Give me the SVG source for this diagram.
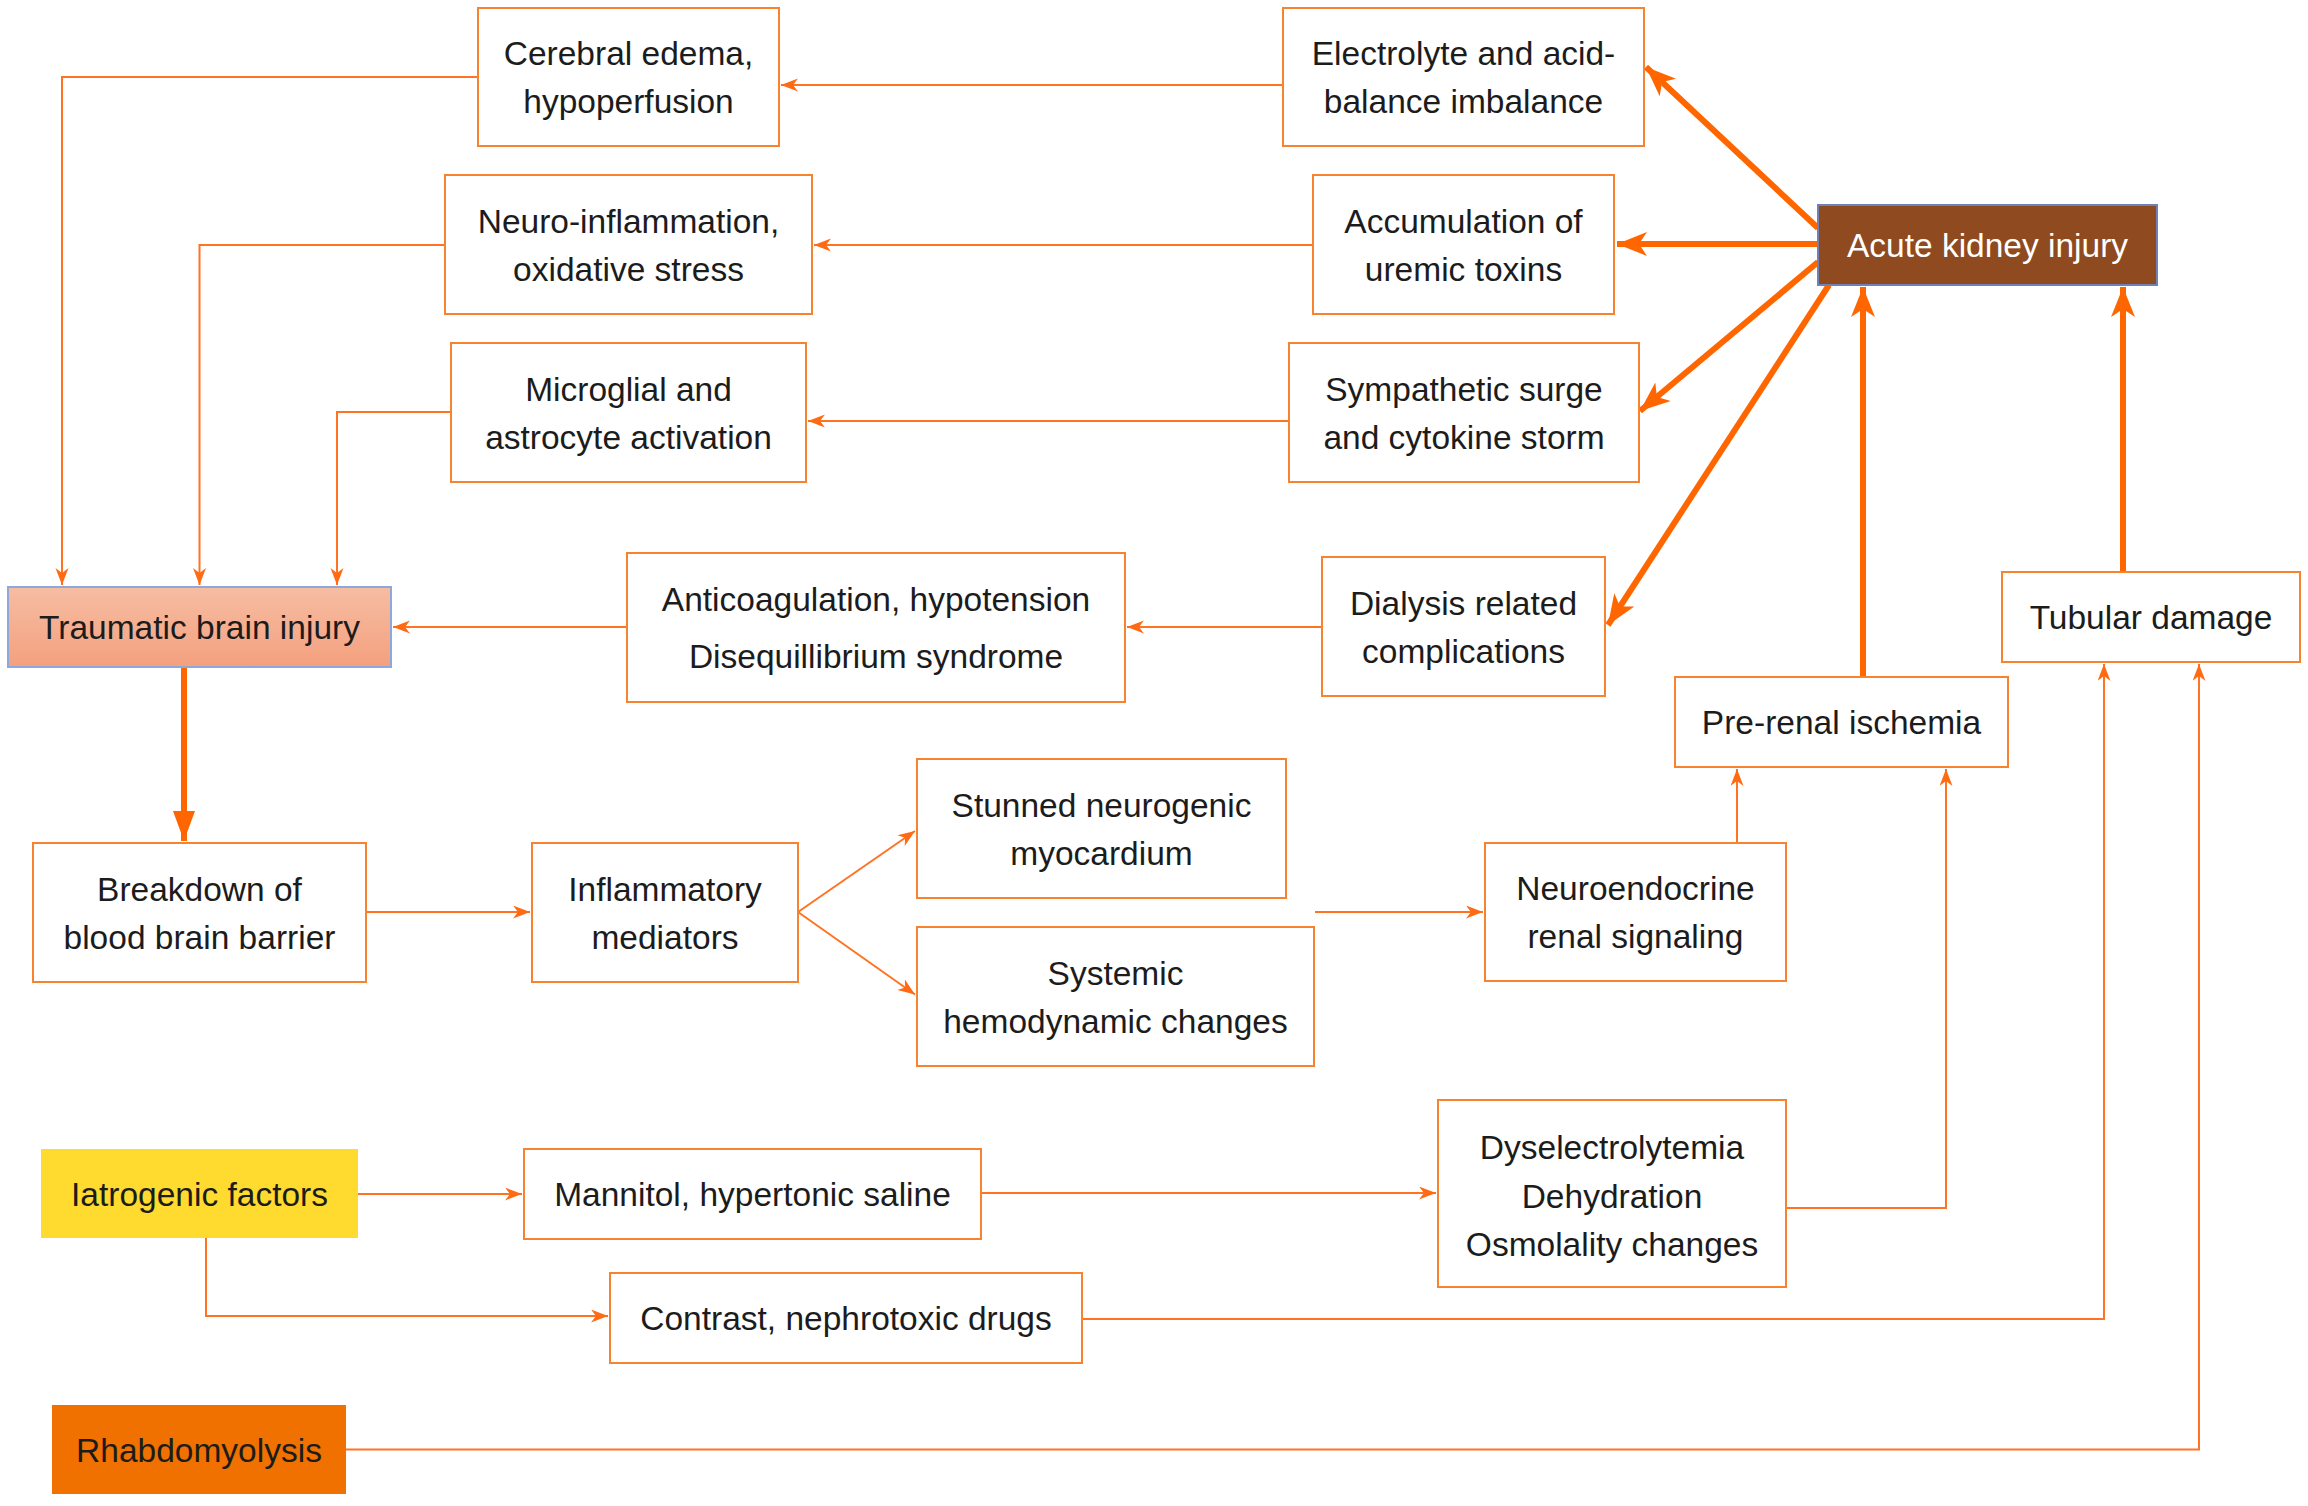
<svg xmlns="http://www.w3.org/2000/svg" width="2308" height="1506" viewBox="0 0 2308 1506">
<style>
.box{fill:#ffffff;stroke:#F7832F;stroke-width:2}
.t{font-family:"Liberation Sans",Arial,sans-serif;font-size:33.5px;fill:#1c1c1c;text-anchor:middle}
.thin{fill:none;stroke:#FF7322;stroke-width:2}
.thick{fill:none;stroke:#FF6600;stroke-width:6}
</style>
<defs>
<linearGradient id="tbiGrad" x1="0" y1="0" x2="0" y2="1">
<stop offset="0" stop-color="#F6BDA3"/>
<stop offset="1" stop-color="#F4A07E"/>
</linearGradient>
<marker id="ah" markerUnits="userSpaceOnUse" markerWidth="20" markerHeight="16" refX="17" refY="6.5" orient="auto">
<path d="M0,0 L17,6.5 L0,13 L5,6.5 z" fill="#FF6A13"/>
</marker>
<marker id="ahT" markerUnits="userSpaceOnUse" markerWidth="34" markerHeight="28" refX="30" refY="12" orient="auto">
<path d="M0,0 L30,12 L0,24 L8,12 z" fill="#FF6600"/>
</marker>
<marker id="ahP" markerUnits="userSpaceOnUse" markerWidth="34" markerHeight="26" refX="30" refY="11" orient="auto">
<path d="M0,0 L30,11 L0,22 z" fill="#FF6600"/>
</marker>
</defs>
<rect width="2308" height="1506" fill="#ffffff"/>

<g id="connectors">
<path class="thin" d="M1283,85 H781" marker-end="url(#ah)"/>
<path class="thin" d="M478,77 H62 V585" marker-end="url(#ah)"/>
<path class="thin" d="M1313,245 H814" marker-end="url(#ah)"/>
<path class="thin" d="M445,245 H199.5 V585" marker-end="url(#ah)"/>
<path class="thin" d="M1289,421 H808" marker-end="url(#ah)"/>
<path class="thin" d="M451,412 H337 V585" marker-end="url(#ah)"/>
<path class="thin" d="M1322,627 H1127" marker-end="url(#ah)"/>
<path class="thin" d="M627,627 H393" marker-end="url(#ah)"/>
<path class="thick" d="M184,667 V841" marker-end="url(#ahP)"/>
<path class="thin" d="M366,912 H530" marker-end="url(#ah)"/>
<path class="thin" d="M798,912 L915,831" marker-end="url(#ah)"/>
<path class="thin" d="M798,912 L915,994.5" marker-end="url(#ah)"/>
<path class="thin" d="M1315,912 H1483" marker-end="url(#ah)"/>
<path class="thin" d="M1737,843 V769" marker-end="url(#ah)"/>
<path class="thin" d="M358,1194 H522" marker-end="url(#ah)"/>
<path class="thin" d="M981,1193 H1436" marker-end="url(#ah)"/>
<path class="thin" d="M1786,1208 H1946 V769" marker-end="url(#ah)"/>
<path class="thin" d="M206,1238 V1316 H608" marker-end="url(#ah)"/>
<path class="thin" d="M1082,1319 H2104 V664" marker-end="url(#ah)"/>
<path class="thin" d="M346,1449.5 H2199 V664" marker-end="url(#ah)"/>
<path class="thick" d="M1818,228 L1646,67" marker-end="url(#ahT)"/>
<path class="thick" d="M1818,244 H1617" marker-end="url(#ahT)"/>
<path class="thick" d="M1818,262 L1640,411" marker-end="url(#ahT)"/>
<path class="thick" d="M1829,285 L1608,625" marker-end="url(#ahT)"/>
<path class="thick" d="M1863,677 V287" marker-end="url(#ahT)"/>
<path class="thick" d="M2123,572 V287" marker-end="url(#ahT)"/>
</g>

<g id="cerebral-edema">
<rect class="box" x="478" y="8" width="301" height="138"/>
<text class="t" x="628.5" y="65">Cerebral edema,</text>
<text class="t" x="628.5" y="113">hypoperfusion</text>
</g>
<g id="neuro-inflammation">
<rect class="box" x="445" y="175" width="367" height="139"/>
<text class="t" x="628.5" y="232.5">Neuro-inflammation,</text>
<text class="t" x="628.5" y="280.5">oxidative stress</text>
</g>
<g id="microglial">
<rect class="box" x="451" y="343" width="355" height="139"/>
<text class="t" x="628.5" y="400.5">Microglial and</text>
<text class="t" x="628.5" y="448.5">astrocyte activation</text>
</g>
<g id="tbi">
<rect x="8" y="587" width="383" height="80" fill="url(#tbiGrad)" stroke="#8EA8DB" stroke-width="2"/>
<text class="t" x="199.5" y="639">Traumatic brain injury</text>
</g>
<g id="anticoagulation">
<rect class="box" x="627" y="553" width="498" height="149"/>
<text class="t" x="876" y="611">Anticoagulation, hypotension</text>
<text class="t" x="876" y="668">Disequillibrium syndrome</text>
</g>
<g id="electrolyte">
<rect class="box" x="1283" y="8" width="361" height="138"/>
<text class="t" x="1463.5" y="65">Electrolyte and acid-</text>
<text class="t" x="1463.5" y="113">balance imbalance</text>
</g>
<g id="uremic-toxins">
<rect class="box" x="1313" y="175" width="301" height="139"/>
<text class="t" x="1463.5" y="232.5">Accumulation of</text>
<text class="t" x="1463.5" y="280.5">uremic toxins</text>
</g>
<g id="sympathetic">
<rect class="box" x="1289" y="343" width="350" height="139"/>
<text class="t" x="1464" y="400.5">Sympathetic surge</text>
<text class="t" x="1464" y="448.5">and cytokine storm</text>
</g>
<g id="dialysis">
<rect class="box" x="1322" y="557" width="283" height="139"/>
<text class="t" x="1463.5" y="614.5">Dialysis related</text>
<text class="t" x="1463.5" y="662.5">complications</text>
</g>
<g id="aki">
<rect x="1818" y="205" width="339" height="80" fill="#8F4B1F" stroke="#6E82B5" stroke-width="2"/>
<text class="t" x="1987.5" y="257" style="fill:#ffffff">Acute kidney injury</text>
</g>
<g id="tubular-damage">
<rect class="box" x="2002" y="572" width="298" height="90"/>
<text class="t" x="2151" y="629">Tubular damage</text>
</g>
<g id="pre-renal">
<rect class="box" x="1675" y="677" width="333" height="90"/>
<text class="t" x="1841.5" y="734">Pre-renal ischemia</text>
</g>
<g id="bbb">
<rect class="box" x="33" y="843" width="333" height="139"/>
<text class="t" x="199.5" y="900.5">Breakdown of</text>
<text class="t" x="199.5" y="948.5">blood brain barrier</text>
</g>
<g id="inflammatory">
<rect class="box" x="532" y="843" width="266" height="139"/>
<text class="t" x="665" y="900.5">Inflammatory</text>
<text class="t" x="665" y="948.5">mediators</text>
</g>
<g id="stunned">
<rect class="box" x="917" y="759" width="369" height="139"/>
<text class="t" x="1101.5" y="816.5">Stunned neurogenic</text>
<text class="t" x="1101.5" y="864.5">myocardium</text>
</g>
<g id="systemic">
<rect class="box" x="917" y="927" width="397" height="139"/>
<text class="t" x="1115.5" y="984.5">Systemic</text>
<text class="t" x="1115.5" y="1032.5">hemodynamic changes</text>
</g>
<g id="neuroendocrine">
<rect class="box" x="1485" y="843" width="301" height="138"/>
<text class="t" x="1635.5" y="900">Neuroendocrine</text>
<text class="t" x="1635.5" y="948">renal signaling</text>
</g>
<g id="iatrogenic">
<rect x="41" y="1149" width="317" height="89" fill="#FFDA2F"/>
<text class="t" x="199.5" y="1205.5">Iatrogenic factors</text>
</g>
<g id="mannitol">
<rect class="box" x="524" y="1149" width="457" height="90"/>
<text class="t" x="752.5" y="1206">Mannitol, hypertonic saline</text>
</g>
<g id="dyselectrolytemia">
<rect class="box" x="1438" y="1100" width="348" height="187"/>
<text class="t" x="1612" y="1159">Dyselectrolytemia</text>
<text class="t" x="1612" y="1207.5">Dehydration</text>
<text class="t" x="1612" y="1256">Osmolality changes</text>
</g>
<g id="contrast">
<rect class="box" x="610" y="1273" width="472" height="90"/>
<text class="t" x="846" y="1330">Contrast, nephrotoxic drugs</text>
</g>
<g id="rhabdomyolysis">
<rect x="52" y="1405" width="294" height="89" fill="#F07000"/>
<text class="t" x="199" y="1461.5">Rhabdomyolysis</text>
</g>
</svg>
